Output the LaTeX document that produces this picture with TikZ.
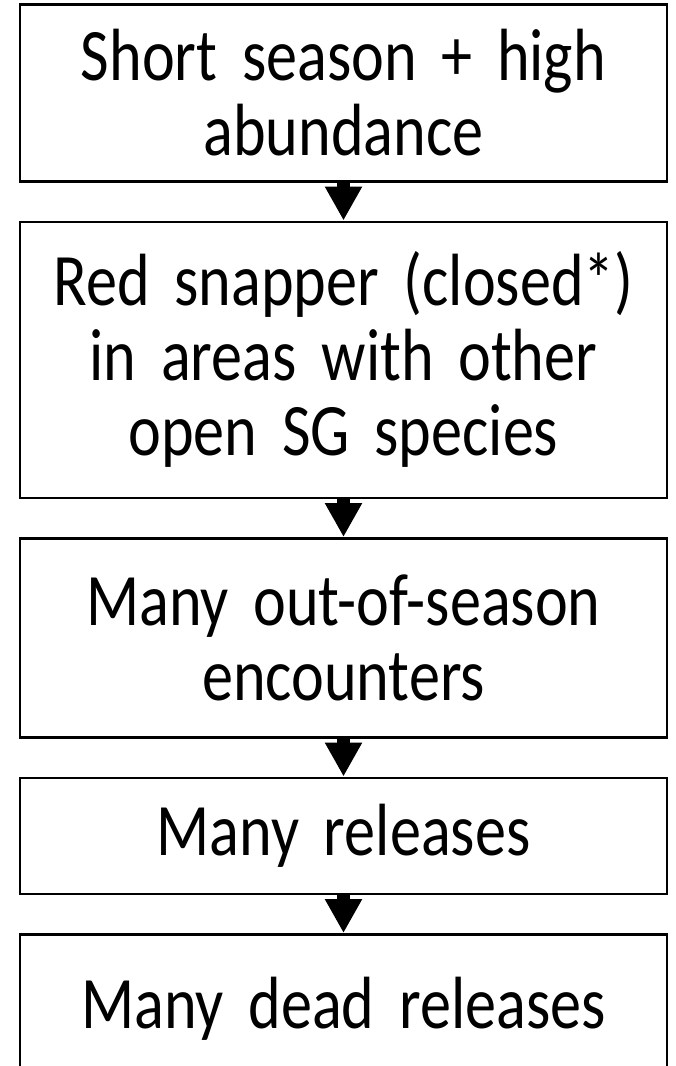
\documentclass[tikz,border=0pt]{standalone}
\usepackage{fontspec}
\setmainfont{Carlito}[FakeStretch=0.84]
\usetikzlibrary{arrows.meta}
\usetikzlibrary{positioning}
\tikzset{
	stage/.style={rectangle,draw,line width=2.5pt,minimum width=647pt,text width=630pt,
		align=center,inner sep=0pt,font=\fontsize{74}{75}\selectfont}
}

\begin{document}
\begin{tikzpicture}[->,>={Triangle[width=35pt,length=34pt]},node distance=38pt]
		\useasboundingbox (0,0) rectangle (675pt,-1066pt);
		\node[stage,minimum height=177pt,anchor=north] (1) at (343.5pt,-3pt) {Short season + high\\abundance};
		\node[stage,minimum height=276pt] (2) [below=of 1] {Red snapper (closed*)\\in areas with other\\open SG species};
		\node[stage,minimum height=199pt] (3) [below=of 2] {Many out-of-season\\encounters};
		\node[stage,minimum height=116pt] (4) [below=of 3] {Many releases};
		\node[stage,minimum height=150pt] (5) [below=of 4] {Many dead releases};

		\path[line width=13pt]
		  (1) edge (2)
		  (2) edge (3)
		  (3) edge (4)
		  (4) edge (5);
\end{tikzpicture}
\end{document}
